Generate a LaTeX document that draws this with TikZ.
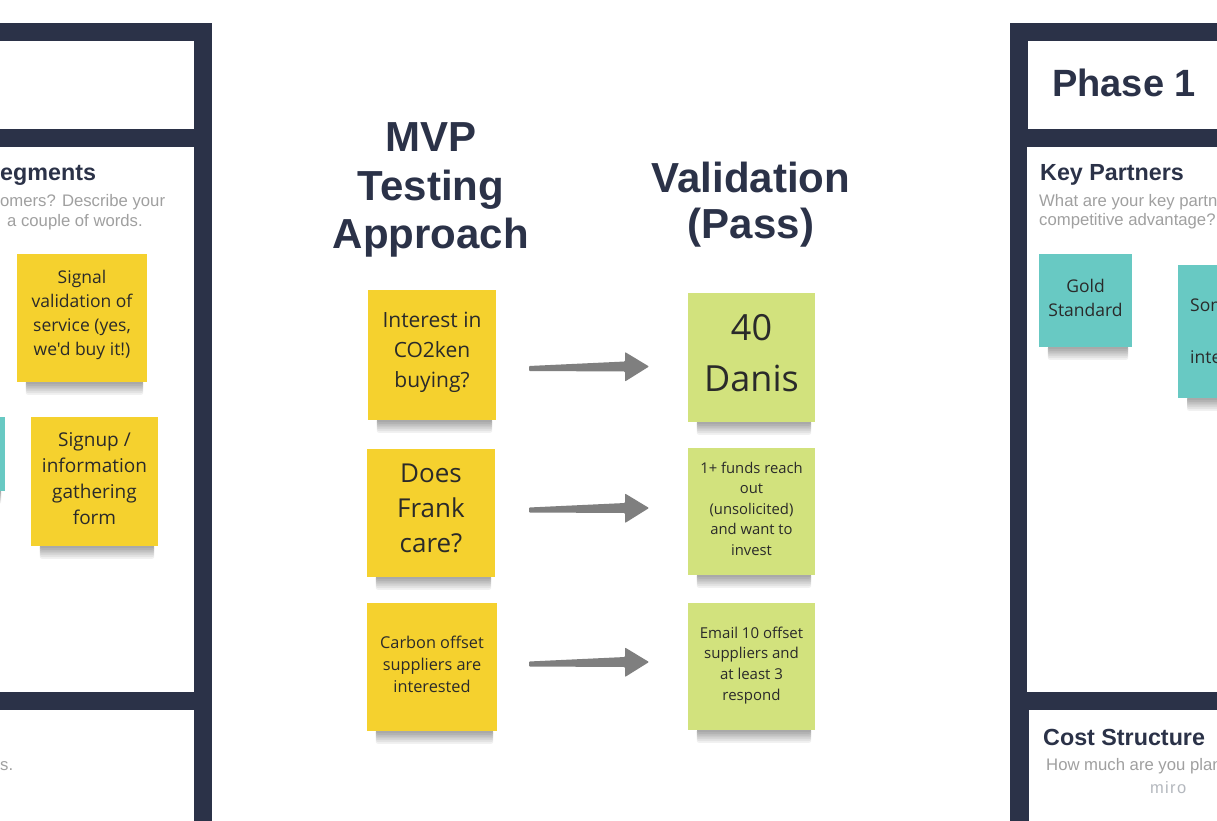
\documentclass[tikz,border=0pt]{standalone}
\usepackage{fontspec}
\setmainfont{Liberation Sans}
\newfontfamily\stickyfont{Open Sans}
\usetikzlibrary{calc}
\definecolor{navy}{HTML}{2B3248}
\definecolor{stickyyellow}{HTML}{F5D12E}
\definecolor{stickygreen}{HTML}{D2E27D}
\definecolor{stickyteal}{HTML}{68C9C3}
\definecolor{hintgray}{HTML}{A0A0A0}
\definecolor{arrowgray}{HTML}{7F7F7F}
\definecolor{stickytext}{HTML}{2A2A2A}
\definecolor{mirogray}{HTML}{B4B8BE}
\pgfdeclarelayer{panels}
\pgfdeclarelayer{shadows}
\pgfsetlayers{panels,shadows,main}
\tikzset{
  sticky/.style={inner sep=0pt, align=center, text=stickytext},
  yellownote/.style={sticky, fill=stickyyellow},
  greennote/.style={sticky, fill=stickygreen},
  tealnote/.style={sticky, fill=stickyteal},
  title/.style={inner sep=0pt, align=center, text=navy},
  heading/.style={inner sep=0pt, anchor=base west, text=navy, font=\bfseries\fontsize{23.3}{28}\selectfont},
  hint/.style={inner sep=0pt, anchor=base west, text=hintgray, font=\fontsize{16.7}{20}\selectfont},
  panelframe/.style={fill=navy},
  panelbox/.style={fill=white},
  fatarrow/.style={fill=arrowgray, rounded corners=0.8pt}
}
\newcommand\noteshadow[1]{%
  \begin{pgfonlayer}{shadows}
    \foreach \i in {1,...,7}{%
      \fill[black,opacity=0.055,rounded corners=2pt] ([xshift=9pt,yshift=1pt]#1.south west) rectangle ([xshift=-4pt,yshift={-1.8pt*\i}]#1.south east);}
  \end{pgfonlayer}}
\newcommand\bigarrow[2]{%
  \fill[fatarrow] ($(#1)+(0,-2.5)$) -- ($(#2)+(-24,-5)$) -- ($(#2)+(-24,-14.5)$) -- (#2) -- ($(#2)+(-24,15)$) -- ($(#2)+(-24,5)$) -- ($(#1)+(0,2.5)$) -- cycle;}
\begin{document}
\begin{tikzpicture}[x=1pt,y=-1pt]
\useasboundingbox (0,0) rectangle (1217,821);
\clip (0,0) rectangle (1217,821);

% ---------- panels ----------
\begin{pgfonlayer}{panels}
  \fill[white] (0,0) rectangle (1217,821);
  \fill[panelframe] (0,23) rectangle (212,821);
  \fill[panelbox] (0,41) rectangle (194,129);
  \fill[panelbox] (0,147) rectangle (194,692);
  \fill[panelbox] (0,710) rectangle (194,821);
  \fill[panelframe] (1010,23) rectangle (1217,821);
  \fill[panelbox] (1028,41) rectangle (1217,129);
  \fill[panelbox] (1027,147) rectangle (1217,692);
  \fill[panelbox] (1029,710) rectangle (1217,821);
\end{pgfonlayer}

% ---------- left panel ----------
\node[heading] (segh) at (0,181) {egments};
\node[hint] (segq1) at (0,207) {omers? Describe your};
\node[hint] (segq2) at (7,226) {a couple of words.};
\node[hint] (lowq) at (0,770) {s.};

\node[yellownote, minimum width=130pt, minimum height=128pt,
  font=\stickyfont\fontsize{17.5}{24}\selectfont, text depth=10pt] (signal) at (82,318)
  {Signal\\validation of\\service (yes,\\we'd buy it!)};
\noteshadow{signal}
\node[tealnote, minimum width=120pt, minimum height=74pt] (lteal) at (-55,454) {};
\noteshadow{lteal}
\node[yellownote, minimum width=127pt, minimum height=129pt,
  font=\stickyfont\fontsize{19}{26.3}\selectfont, text depth=6pt] (signup) at (94.5,481.5)
  {Signup /\\information\\gathering\\form};
\noteshadow{signup}

% ---------- right panel ----------
\node[inner sep=0pt, anchor=base west, text=navy, font=\bfseries\fontsize{38}{44}\selectfont] (phase) at (1052,97) {Phase 1};
\node[heading] (kph) at (1040,181) {Key Partners};
\node[hint] (kpq1) at (1039,206) {What are your key partners};
\node[hint] (kpq2) at (1039,225) {competitive advantage?};
\node[tealnote, minimum width=93pt, minimum height=93pt,
  font=\stickyfont\fontsize{17.5}{24}\selectfont, text depth=6pt] (gold) at (1085.5,300.5)
  {Gold\\Standard};
\noteshadow{gold}
\node[tealnote, anchor=west, inner xsep=12pt, minimum height=133pt, align=left,
  font=\stickyfont\fontsize{17.5}{26}\selectfont] (some) at (1178,331.5)
  {Some\\~\\intermediaries};
\noteshadow{some}
\node[heading] (csh) at (1043,745) {Cost Structure};
\node[hint] (csq) at (1046,770) {How much are you planning};
\node[inner sep=0pt, anchor=base west, text=mirogray, font=\fontsize{16.5}{20}\selectfont] (miro) at (1150,793) {m\kern1.3pt i\kern1.3pt r\kern1.3pt o};

% ---------- titles ----------
\node[title, font=\bfseries\fontsize{42}{48.5}\selectfont] (mvp) at (431,190) {MVP\\Testing\\Approach};
\node[title, font=\bfseries\fontsize{42}{46}\selectfont] (valid) at (751,204.5) {Validation\\(Pass)};

% ---------- test stickies ----------
\node[yellownote, minimum width=128pt, minimum height=130pt,
  font=\stickyfont\fontsize{21}{30}\selectfont, text depth=11pt] (q1) at (432,355)
  {Interest in\\CO2ken\\buying?};
\noteshadow{q1}
\node[yellownote, minimum width=128pt, minimum height=128pt,
  font=\stickyfont\fontsize{26}{35}\selectfont, text depth=10pt] (q2) at (431,513)
  {Does\\Frank\\care?};
\noteshadow{q2}
\node[yellownote, minimum width=130pt, minimum height=128pt,
  font=\stickyfont\fontsize{16.3}{22}\selectfont, text depth=6pt] (q3) at (432,667)
  {Carbon offset\\suppliers are\\interested};
\noteshadow{q3}

\node[greennote, minimum width=127pt, minimum height=129pt,
  font=\stickyfont\fontsize{36}{51}\selectfont, text depth=9pt] (g1) at (751.5,357.5)
  {40\\Danis};
\noteshadow{g1}
\node[greennote, minimum width=127pt, minimum height=127pt,
  font=\stickyfont\fontsize{14.8}{20.5}\selectfont, text depth=6pt] (g2) at (751.5,511.5)
  {1+ funds reach\\out\\(unsolicited)\\and want to\\invest};
\noteshadow{g2}
\node[greennote, minimum width=127pt, minimum height=127pt,
  font=\stickyfont\fontsize{15}{20.7}\selectfont, text depth=6pt] (g3) at (751.5,666.5)
  {Email 10 offset\\suppliers and\\at least 3\\respond};
\noteshadow{g3}

% ---------- arrows ----------
\coordinate (a1s) at (529,368.5);
\coordinate (a1e) at (649,366.5);
\coordinate (a2s) at (529,510);
\coordinate (a2e) at (649,508);
\coordinate (a3s) at (529,664);
\coordinate (a3e) at (649,662);
\bigarrow{a1s}{a1e}
\bigarrow{a2s}{a2e}
\bigarrow{a3s}{a3e}
\end{tikzpicture}
\end{document}
